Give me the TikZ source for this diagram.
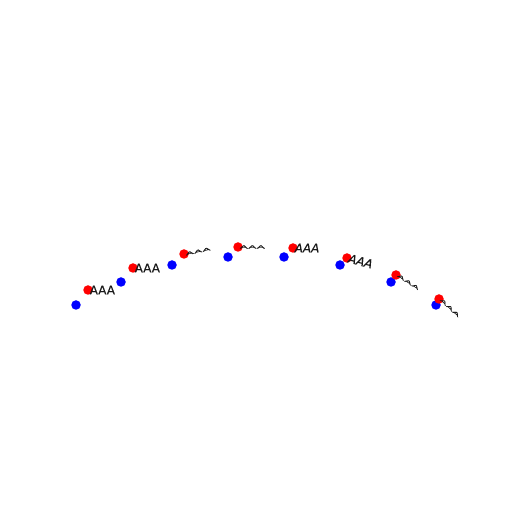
\documentclass[tikz,border=0pt]{standalone}
\usepackage{fontspec}
\setmainfont{DejaVu Sans}[FakeBold=0.25]
\usetikzlibrary{positioning}
\tikzset{>=latex}
\tikzset{
  dot/.style={circle, inner sep=0pt, minimum size=9.5pt},
  bluedot/.style={dot, fill=blue},
  reddot/.style={dot, fill=red},
  aaa/.style={anchor=west, inner sep=0pt, text=black!90, font=\fontsize{12}{12}\selectfont}
}
\newcommand{\squashed}[1]{\scalebox{1}[0.35]{#1}}

\begin{document}
\begin{tikzpicture}[x=1pt, y=1pt]
    \useasboundingbox (0, 0) rectangle (512, 512);
    \foreach \i/\x/\y in {1/76/207, 2/121/230, 3/172/247, 4/228/255,
                          5/284/255, 6/340/247, 7/391/230, 8/436/207}
    {
      \node[bluedot] (b\i) at (\x, \y) {};
    }
    \foreach \i/\x/\y in {1/88/222, 2/133/244, 3/184/258, 4/238/265,
                          5/293/264, 6/347/254, 7/396/237, 8/439/213}
    {
      \node[reddot] (r\i) at (\x, \y) {};
    }
    % labels next to the red dots
    \node[aaa] (t1) at ([xshift=1.5pt]r1.center) {AAA};
    \node[aaa] (t2) at ([xshift=1.5pt]r2.center) {AAA};
    \node[aaa, rotate=12] (t3) at ([xshift=1.5pt]r3.center) {\squashed{AAA}};
    \node[aaa] (t4) at ([xshift=1.5pt]r4.center) {\squashed{AAA}};
    \node[aaa] (t5) at ([xshift=1.5pt]r5.center) {\itshape AAA};
    \node[aaa, rotate=-15] (t6) at ([xshift=1.5pt]r6.center) {\itshape AAA};
    \node[aaa, rotate=-33] (t7) at ([xshift=1.5pt]r7.center) {\squashed{AAA}};
    \node[aaa, rotate=-43] (t8) at ([xshift=1.5pt]r8.center) {\squashed{AAA}};
  \end{tikzpicture}
\end{document}
